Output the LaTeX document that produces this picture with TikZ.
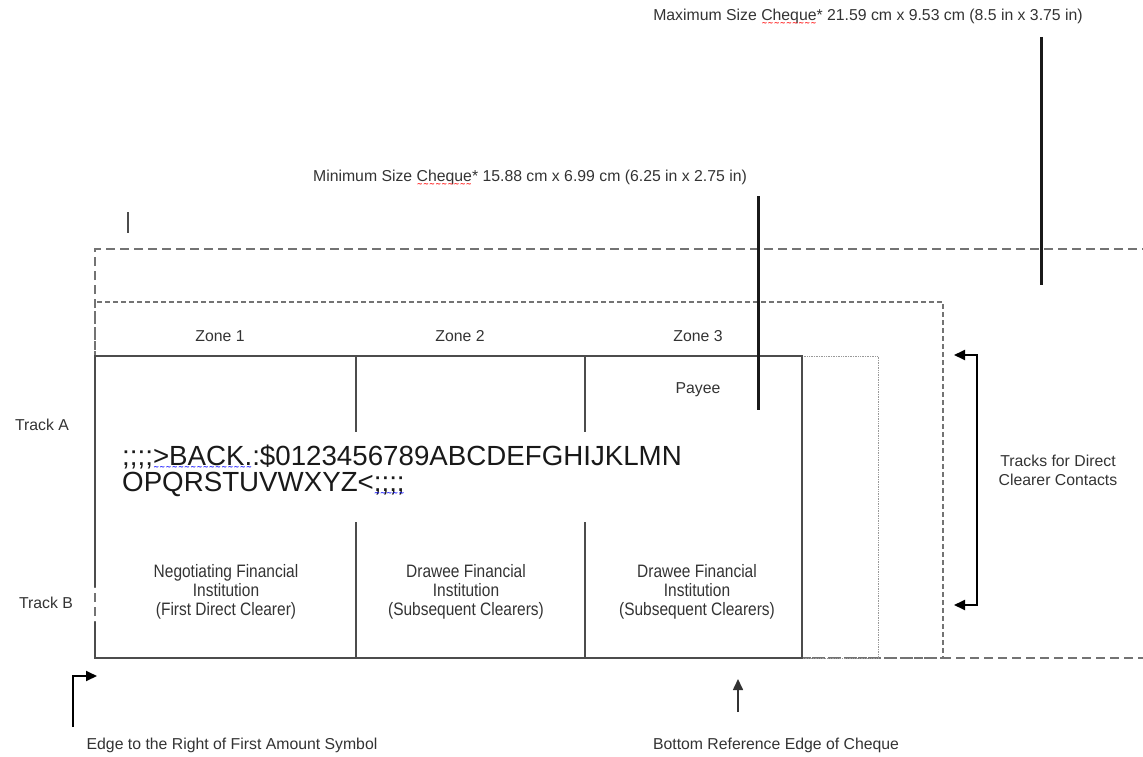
\documentclass[tikz,border=0pt]{standalone}
\usepackage{fontspec}
\setmainfont{Liberation Sans}
\newfontfamily\narrowfont[FakeStretch=0.86]{Liberation Sans}
\newfontfamily\wavefont{DejaVu Sans Bold}
\usetikzlibrary{arrows.meta}
\newlength\wavelen
\newcommand\wavy[3]{\settowidth\wavelen{#3}\rlap{#3}\raisebox{#2}[0pt][0pt]{\color{#1}\wavefont\fontsize{7}{7}\selectfont\xleaders\hbox{\char"223C}\hskip\wavelen}}
\begin{document}
\begin{tikzpicture}[x=1pt,y=-1pt,
  lbl/.style={font=\fontsize{15.8}{19}\selectfont, text=black!80, inner sep=0pt},
  boxlbl/.style={font=\narrowfont\fontsize{18}{19}\selectfont, text=black!80, inner sep=0pt, align=center},
  micr/.style={font=\fontsize{27.7}{26}\selectfont, text=black!90, inner sep=0pt, align=left},
  maxdash/.style={draw=black!55, line width=2.2pt, dash pattern=on 9pt off 5pt},
  mindash/.style={draw=black!55, line width=1.7pt, dash pattern=on 5pt off 3pt},
  fine/.style={draw=black!40, line width=1pt, dash pattern=on 1pt off 0.7pt},
  boxline/.style={draw=black!70, line width=1.5pt},
  thick bar/.style={draw=black!90, line width=3pt},
  arr/.style={draw=black, line width=2pt, -{Triangle[length=11pt,width=10pt]}},
  thinarr/.style={draw=black!80, line width=1.6pt, -{Triangle[length=11pt,width=10pt]}}]
\useasboundingbox (0,0) rectangle (1143,757);

% maximum size (long dashes)
\draw[maxdash] (95,658) -- (95,249) -- (1143,249);
\draw[maxdash] (802,658) -- (1143,658);
% minimum size (short dashes)
\draw[mindash] (95,356) -- (95,302) -- (943,302) -- (943,658) -- (802,658);
% inner dotted box
\draw[fine] (802,356) -- (878,356) -- (878,658) -- (802,658);
% cheque solid box
\draw[boxline] (95,587) -- (95,356) -- (802,356) -- (802,658) -- (95,658) -- (95,622);
% zone dividers
\draw[boxline] (356,356) -- (356,432) (356,522) -- (356,658);
\draw[boxline] (585,356) -- (585,432) (585,522) -- (585,658);

% thick vertical bars
\draw[thick bar] (1041,37) -- (1041,285);
\draw[thick bar] (758,196) -- (758,410);
\draw[draw=black!70, line width=1.2pt] (128,212) -- (128,233);

% top labels
\node[lbl] (maxlbl) at (868,16) {Maximum Size \wavy{red}{-5pt}{Cheque}* 21.59 cm x 9.53 cm (8.5 in x 3.75 in)};
\node[lbl] (minlbl) at (530,177) {Minimum Size \wavy{red}{-5pt}{Cheque}* 15.88 cm x 6.99 cm (6.25 in x 2.75 in)};

% zones
\node[lbl] (z1) at (220,336) {Zone 1};
\node[lbl] (z2) at (460,336) {Zone 2};
\node[lbl] (z3) at (698,336) {Zone 3};
\node[lbl] (payee) at (698,390) {Payee};

% tracks
\node[lbl] (ta) at (42,425) {Track A};
\node[lbl] (tb) at (46,603) {Track B};

% MICR line
\node[micr, anchor=north west] (micrtxt) at (122,445) {;;;;\wavy{blue}{-4pt}{>BACK.}:\$0123456789ABCDEFGHIJKLMN\\OPQRSTUVWXYZ<\wavy{blue}{-4pt}{;;;;}};

% box labels
\node[boxlbl] (b1) at (226,592) {Negotiating Financial\\Institution\\(First Direct Clearer)};
\node[boxlbl] (b2) at (466,592) {Drawee Financial\\Institution\\(Subsequent Clearers)};
\node[boxlbl] (b3) at (697,592) {Drawee Financial\\Institution\\(Subsequent Clearers)};

% tracks bracket
\coordinate (brtop) at (977,355);
\coordinate (brbot) at (977,605);
\coordinate (tiptop) at (954,355);
\coordinate (tipbot) at (954,605);
\draw[arr] (brbot) -- (brtop) -- (tiptop);
\draw[arr] (brtop) -- (brbot) -- (tipbot);
\node[lbl, align=center] (tracks) at (1058,470) {Tracks for Direct\\Clearer Contacts};

% bottom left arrow
\coordinate (elow) at (73,727);
\coordinate (ecorner) at (73,676);
\coordinate (etip) at (97,676);
\draw[arr] (elow) -- (ecorner) -- (etip);
\node[lbl] (edge) at (232,745) {Edge to the Right of First Amount Symbol};

% bottom reference arrow
\coordinate (blow) at (738,712);
\coordinate (btip) at (738,679);
\draw[thinarr] (blow) -- (btip);
\node[lbl] (bottom) at (776,745) {Bottom Reference Edge of Cheque};
\end{tikzpicture}
\end{document}
